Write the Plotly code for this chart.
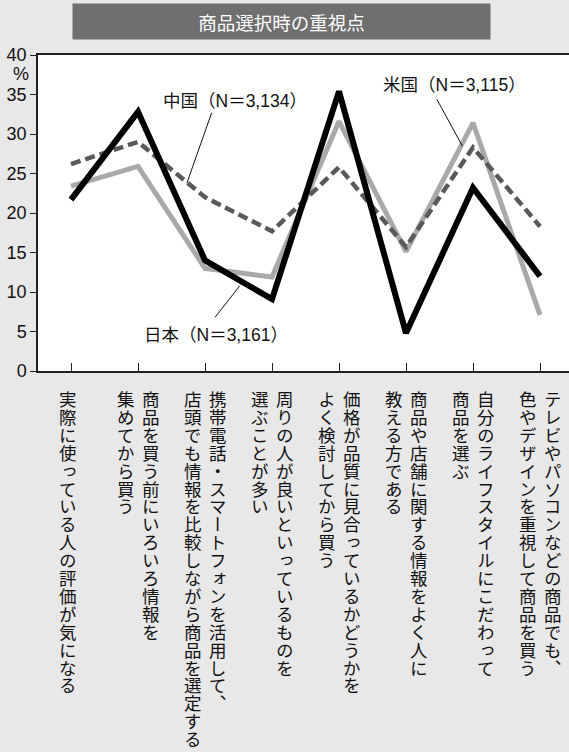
import plotly.graph_objects as go

# ---------------- data ----------------
categories = [
    "実際に使っている人の評価が気になる",
    "商品を買う前にいろいろ情報を集めてから買う",
    "携帯電話・スマートフォンを活用して、店頭でも情報を比較しながら商品を選定する",
    "周りの人が良いといっているものを選ぶことが多い",
    "価格が品質に見合っているかどうかをよく検討してから買う",
    "商品や店舗に関する情報をよく人に教える方である",
    "自分のライフスタイルにこだわって商品を選ぶ",
    "テレビやパソコンなどの商品でも、色やデザインを重視して商品を買う",
]
label_lines = [
    ["実際に使っている人の評価が気になる"],
    ["商品を買う前にいろいろ情報を", "集めてから買う"],
    ["携帯電話・スマートフォンを活用して、", "店頭でも情報を比較しながら商品を選定する"],
    ["周りの人が良いといっているものを", "選ぶことが多い"],
    ["価格が品質に見合っているかどうかを", "よく検討してから買う"],
    ["商品や店舗に関する情報をよく人に", "教える方である"],
    ["自分のライフスタイルにこだわって", "商品を選ぶ"],
    ["テレビやパソコンなどの商品でも、", "色やデザインを重視して商品を買う"],
]
japan = [21.7, 32.8, 14.0, 9.1, 35.4, 4.8, 23.2, 12.0]
usa = [23.4, 25.9, 13.0, 11.9, 31.6, 15.1, 31.4, 7.1]
china = [26.2, 29.0, 22.0, 17.7, 25.8, 15.7, 28.3, 18.3]
series_names = ["日本（N＝3,161）", "米国（N＝3,115）", "中国（N＝3,134）"]
y_ticks = [0, 5, 10, 15, 20, 25, 30, 35, 40]
title = "商品選択時の重視点"

# ---------------- figure ----------------
xs = list(range(len(categories)))
W, H = 569, 752
ML, MR, MT, MB = 38, 0, 55, 381
plot_w = W - ML - MR
cat_px = 67.0
x0 = -33.0 / cat_px
x1 = x0 + plot_w / cat_px

FONT_LAT = "Liberation Sans, Noto Sans CJK JP, sans-serif"
FONT_CJK = "Noto Sans CJK JP, sans-serif"

fig = go.Figure()
fig.add_trace(go.Scatter(x=xs, y=usa, mode="lines", name=series_names[1],
                         line=dict(color="#a9a9a9", width=5), hoverinfo="skip"))
fig.add_trace(go.Scatter(x=xs, y=china, mode="lines", name=series_names[2],
                         line=dict(color="#595959", width=4.5, dash="10px,5px"), hoverinfo="skip"))
fig.add_trace(go.Scatter(x=xs, y=japan, mode="lines", name=series_names[0],
                         line=dict(color="#000000", width=6), hoverinfo="skip"))

annotations = []

# title box
annotations.append(dict(
    text=title, xref="paper", yref="paper",
    x=(281 - ML) / plot_w, y=(371 - 21.5) / 316.0,
    xanchor="center", yanchor="middle", showarrow=False,
    width=417, height=35, bgcolor="#6f6f6f", borderpad=0,
    font=dict(family=FONT_CJK, size=18.5, color="white"),
))

# % label
annotations.append(dict(
    text="%", xref="paper", yref="y", x=0, y=37.6, xanchor="right", yanchor="middle",
    xshift=-7, showarrow=False, font=dict(family=FONT_LAT, size=18, color="#111"),
))

# series labels
label_pos = [(2.16, 4.6), (5.72, 36.2), (2.45, 34.2)]
for name, (lx, ly) in zip(series_names, label_pos):
    annotations.append(dict(
        text=name, x=lx, y=ly, xref="x", yref="y", showarrow=False,
        xanchor="center", yanchor="middle",
        font=dict(family=FONT_LAT, size=17.5, color="#111"),
    ))
N_FIXED = len(annotations)

# leader lines
leaders = [
    ((2.52, 10.8), (2.15, 6.8)),
    ((5.46, 34.4), (5.84, 28.5)),
    ((2.10, 32.7), (1.73, 23.8)),
]
shapes = []
for (ax_, ay_), (bx_, by_) in leaders:
    shapes.append(dict(type="line", xref="x", yref="y", x0=ax_, y0=ay_, x1=bx_, y1=by_,
                       line=dict(color="#111", width=1)))

# vertical category labels: one annotation per column, characters stacked
VSPAN = "<span style=\"font-feature-settings:'vert'\">{}</span>"
for i, lines in enumerate(label_lines):
    offsets = [-3] if len(lines) == 1 else [13, -12.5]
    for line, off in zip(lines, offsets):
        txt = "<br>".join(VSPAN.format(ch) for ch in line)
        annotations.append(dict(
            text=txt, x=i + off / cat_px, y=0, xref="x", yref="paper",
            xanchor="center", yanchor="top", showarrow=False, align="center",
            yshift=-14, borderpad=0,
            font=dict(family=FONT_CJK, size=17.5, color="#111"),
        ))

fig.update_layout(
    width=W, height=H,
    margin=dict(l=ML, r=MR, t=MT, b=MB, pad=0),
    paper_bgcolor="#e8e8e8", plot_bgcolor="white",
    showlegend=False,
    annotations=annotations, shapes=shapes,
    xaxis=dict(range=[x0, x1], showgrid=False, zeroline=False,
               tickmode="array", tickvals=xs, showticklabels=False,
               ticks="inside", ticklen=8, tickcolor="#222", tickwidth=1,
               showline=True, linecolor="#222", linewidth=1.5, mirror=True),
    yaxis=dict(range=[0, 40], showgrid=False, zeroline=False,
               tickmode="array", tickvals=y_ticks, ticktext=[str(v) for v in y_ticks],
               ticks="outside", ticklen=6, tickcolor="#222", tickwidth=1,
               showline=True, linecolor="#222", linewidth=1.5,
               tickfont=dict(family=FONT_LAT, size=18, color="#111")),
)

# tighten the vertical character pitch of the stacked category labels
post = (
    "document.body.style.margin='0';document.body.style.overflow='hidden';"
    "var gd=document.getElementById('{plot_id}');"
    "gd.querySelectorAll('g.annotation').forEach(function(g){"
    " var i=+g.getAttribute('data-index');"
    " if(i>=" + str(N_FIXED) + "){"
    "  g.querySelectorAll('tspan.line').forEach(function(t,k){ t.setAttribute('dy',(k*17.9)+'px'); });"
    " }"
    "});"
)

fig.write_html("out.html", config={"displayModeBar": False}, post_script=post)
